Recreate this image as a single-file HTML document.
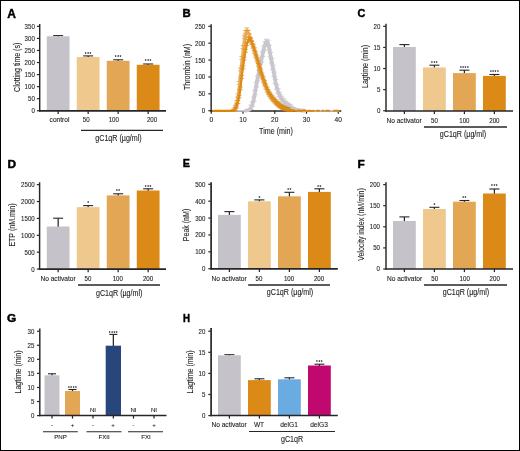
<!DOCTYPE html>
<html lang="en">
<head>
<meta charset="utf-8">
<title>Figure</title>
<style>
html,body{margin:0;padding:0;background:#fff;}
body{width:520px;height:451px;overflow:hidden;}
svg{display:block;font-family:"Liberation Sans",sans-serif;}
</style>
</head>
<body>
<svg width="520" height="451" viewBox="0 0 520 451">
<rect x="0" y="0" width="520" height="451" fill="#fff"/>
<line x1="58.15" y1="35.60" x2="58.15" y2="36.80" stroke="#262628" stroke-width="1.25" stroke-linecap="butt"/>
<line x1="53.15" y1="35.60" x2="63.15" y2="35.60" stroke="#262628" stroke-width="1.1" stroke-linecap="butt"/>
<rect x="46.75" y="36.30" width="22.80" height="74.60" fill="#c5c3c9"/>
<line x1="58.15" y1="110.90" x2="58.15" y2="114.00" stroke="#262628" stroke-width="1.25" stroke-linecap="butt"/>
<line x1="88.15" y1="55.90" x2="88.15" y2="57.50" stroke="#262628" stroke-width="1.25" stroke-linecap="butt"/>
<line x1="83.15" y1="55.90" x2="93.15" y2="55.90" stroke="#262628" stroke-width="1.1" stroke-linecap="butt"/>
<rect x="76.75" y="57.00" width="22.80" height="53.90" fill="#efc88e"/>
<text transform="translate(88.30,55.60)" font-size="4.6" text-anchor="middle" font-weight="bold" fill="#111" letter-spacing="0.55">***</text>
<line x1="88.15" y1="110.90" x2="88.15" y2="114.00" stroke="#262628" stroke-width="1.25" stroke-linecap="butt"/>
<line x1="118.15" y1="59.80" x2="118.15" y2="61.30" stroke="#262628" stroke-width="1.25" stroke-linecap="butt"/>
<line x1="113.15" y1="59.80" x2="123.15" y2="59.80" stroke="#262628" stroke-width="1.1" stroke-linecap="butt"/>
<rect x="106.75" y="60.80" width="22.80" height="50.10" fill="#e3a654"/>
<text transform="translate(118.30,59.40)" font-size="4.6" text-anchor="middle" font-weight="bold" fill="#111" letter-spacing="0.55">***</text>
<line x1="118.15" y1="110.90" x2="118.15" y2="114.00" stroke="#262628" stroke-width="1.25" stroke-linecap="butt"/>
<line x1="148.15" y1="64.00" x2="148.15" y2="65.30" stroke="#262628" stroke-width="1.25" stroke-linecap="butt"/>
<line x1="143.15" y1="64.00" x2="153.15" y2="64.00" stroke="#262628" stroke-width="1.1" stroke-linecap="butt"/>
<rect x="136.75" y="64.80" width="22.80" height="46.10" fill="#db8a17"/>
<text transform="translate(148.30,63.30)" font-size="4.6" text-anchor="middle" font-weight="bold" fill="#111" letter-spacing="0.55">***</text>
<line x1="148.15" y1="110.90" x2="148.15" y2="114.00" stroke="#262628" stroke-width="1.25" stroke-linecap="butt"/>
<line x1="39.10" y1="110.90" x2="166.00" y2="110.90" stroke="#262628" stroke-width="1.6" stroke-linecap="butt"/>
<line x1="39.70" y1="24.00" x2="39.70" y2="111.70" stroke="#262628" stroke-width="1.45" stroke-linecap="butt"/>
<line x1="36.90" y1="110.75" x2="39.40" y2="110.75" stroke="#262628" stroke-width="1.2" stroke-linecap="butt"/>
<text transform="translate(34.80,113.20) scale(0.9,1)" font-size="6.8" text-anchor="end" font-weight="normal" fill="#1c1c1c" stroke="#1c1c1c" stroke-width="0.1">0</text>
<line x1="36.90" y1="98.69" x2="39.40" y2="98.69" stroke="#262628" stroke-width="1.2" stroke-linecap="butt"/>
<text transform="translate(34.80,101.14) scale(0.9,1)" font-size="6.8" text-anchor="end" font-weight="normal" fill="#1c1c1c" stroke="#1c1c1c" stroke-width="0.1">50</text>
<line x1="36.90" y1="86.64" x2="39.40" y2="86.64" stroke="#262628" stroke-width="1.2" stroke-linecap="butt"/>
<text transform="translate(34.80,89.08) scale(0.9,1)" font-size="6.8" text-anchor="end" font-weight="normal" fill="#1c1c1c" stroke="#1c1c1c" stroke-width="0.1">100</text>
<line x1="36.90" y1="74.58" x2="39.40" y2="74.58" stroke="#262628" stroke-width="1.2" stroke-linecap="butt"/>
<text transform="translate(34.80,77.03) scale(0.9,1)" font-size="6.8" text-anchor="end" font-weight="normal" fill="#1c1c1c" stroke="#1c1c1c" stroke-width="0.1">150</text>
<line x1="36.90" y1="62.52" x2="39.40" y2="62.52" stroke="#262628" stroke-width="1.2" stroke-linecap="butt"/>
<text transform="translate(34.80,64.97) scale(0.9,1)" font-size="6.8" text-anchor="end" font-weight="normal" fill="#1c1c1c" stroke="#1c1c1c" stroke-width="0.1">200</text>
<line x1="36.90" y1="50.46" x2="39.40" y2="50.46" stroke="#262628" stroke-width="1.2" stroke-linecap="butt"/>
<text transform="translate(34.80,52.91) scale(0.9,1)" font-size="6.8" text-anchor="end" font-weight="normal" fill="#1c1c1c" stroke="#1c1c1c" stroke-width="0.1">250</text>
<line x1="36.90" y1="38.41" x2="39.40" y2="38.41" stroke="#262628" stroke-width="1.2" stroke-linecap="butt"/>
<text transform="translate(34.80,40.86) scale(0.9,1)" font-size="6.8" text-anchor="end" font-weight="normal" fill="#1c1c1c" stroke="#1c1c1c" stroke-width="0.1">300</text>
<line x1="36.90" y1="26.35" x2="39.40" y2="26.35" stroke="#262628" stroke-width="1.2" stroke-linecap="butt"/>
<text transform="translate(34.80,28.80) scale(0.9,1)" font-size="6.8" text-anchor="end" font-weight="normal" fill="#1c1c1c" stroke="#1c1c1c" stroke-width="0.1">350</text>
<text transform="translate(59.50,121.60)" font-size="6.6" text-anchor="middle" font-weight="normal" fill="#1c1c1c" stroke="#1c1c1c" stroke-width="0.1">control</text>
<text transform="translate(86.25,121.60) scale(0.93,1)" font-size="6.6" text-anchor="middle" font-weight="normal" fill="#1c1c1c" stroke="#1c1c1c" stroke-width="0.1">50</text>
<text transform="translate(113.75,121.60) scale(0.93,1)" font-size="6.6" text-anchor="middle" font-weight="normal" fill="#1c1c1c" stroke="#1c1c1c" stroke-width="0.1">100</text>
<text transform="translate(152.00,121.60) scale(0.93,1)" font-size="6.6" text-anchor="middle" font-weight="normal" fill="#1c1c1c" stroke="#1c1c1c" stroke-width="0.1">200</text>
<line x1="81.00" y1="130.30" x2="163.00" y2="130.30" stroke="#262628" stroke-width="1.15" stroke-linecap="butt"/>
<text transform="translate(118.50,141.20) scale(0.87,1)" font-size="8.2" text-anchor="middle" font-weight="normal" fill="#1c1c1c" stroke="#1c1c1c" stroke-width="0.1">gC1qR (µg/ml)</text>
<text transform="translate(20.00,67.30) rotate(-90) scale(0.86,1)" font-size="8.2" text-anchor="middle" font-weight="normal" fill="#1c1c1c" stroke="#1c1c1c" stroke-width="0.1">Clotting time (s)</text>
<text transform="translate(7.30,18.00)" font-size="12.0" text-anchor="start" font-weight="bold" fill="#000" stroke="#000" stroke-width="0.45" stroke-linejoin="round">A</text>
<line x1="404.40" y1="44.60" x2="404.40" y2="47.50" stroke="#262628" stroke-width="1.25" stroke-linecap="butt"/>
<line x1="399.40" y1="44.60" x2="409.40" y2="44.60" stroke="#262628" stroke-width="1.1" stroke-linecap="butt"/>
<rect x="393.00" y="47.00" width="22.80" height="64.00" fill="#c5c3c9"/>
<line x1="404.40" y1="111.00" x2="404.40" y2="114.10" stroke="#262628" stroke-width="1.25" stroke-linecap="butt"/>
<line x1="434.40" y1="65.20" x2="434.40" y2="67.90" stroke="#262628" stroke-width="1.25" stroke-linecap="butt"/>
<line x1="429.40" y1="65.20" x2="439.40" y2="65.20" stroke="#262628" stroke-width="1.1" stroke-linecap="butt"/>
<rect x="423.00" y="67.40" width="22.80" height="43.60" fill="#efc88e"/>
<text transform="translate(434.55,65.05)" font-size="4.6" text-anchor="middle" font-weight="bold" fill="#111" letter-spacing="0.55">***</text>
<line x1="434.40" y1="111.00" x2="434.40" y2="114.10" stroke="#262628" stroke-width="1.25" stroke-linecap="butt"/>
<line x1="464.40" y1="70.20" x2="464.40" y2="73.60" stroke="#262628" stroke-width="1.25" stroke-linecap="butt"/>
<line x1="459.40" y1="70.20" x2="469.40" y2="70.20" stroke="#262628" stroke-width="1.1" stroke-linecap="butt"/>
<rect x="453.00" y="73.10" width="22.80" height="37.90" fill="#e3a654"/>
<text transform="translate(464.55,70.05)" font-size="4.6" text-anchor="middle" font-weight="bold" fill="#111" letter-spacing="0.55">****</text>
<line x1="464.40" y1="111.00" x2="464.40" y2="114.10" stroke="#262628" stroke-width="1.25" stroke-linecap="butt"/>
<line x1="494.40" y1="74.50" x2="494.40" y2="76.40" stroke="#262628" stroke-width="1.25" stroke-linecap="butt"/>
<line x1="489.40" y1="74.50" x2="499.40" y2="74.50" stroke="#262628" stroke-width="1.1" stroke-linecap="butt"/>
<rect x="483.00" y="75.90" width="22.80" height="35.10" fill="#db8a17"/>
<text transform="translate(494.55,74.35)" font-size="4.6" text-anchor="middle" font-weight="bold" fill="#111" letter-spacing="0.55">****</text>
<line x1="494.40" y1="111.00" x2="494.40" y2="114.10" stroke="#262628" stroke-width="1.25" stroke-linecap="butt"/>
<line x1="385.40" y1="111.00" x2="513.00" y2="111.00" stroke="#262628" stroke-width="1.6" stroke-linecap="butt"/>
<line x1="386.00" y1="23.80" x2="386.00" y2="111.80" stroke="#262628" stroke-width="1.45" stroke-linecap="butt"/>
<line x1="383.20" y1="110.75" x2="385.70" y2="110.75" stroke="#262628" stroke-width="1.2" stroke-linecap="butt"/>
<text transform="translate(380.40,113.20) scale(0.9,1)" font-size="6.8" text-anchor="end" font-weight="normal" fill="#1c1c1c" stroke="#1c1c1c" stroke-width="0.1">0</text>
<line x1="383.20" y1="89.65" x2="385.70" y2="89.65" stroke="#262628" stroke-width="1.2" stroke-linecap="butt"/>
<text transform="translate(380.40,92.10) scale(0.9,1)" font-size="6.8" text-anchor="end" font-weight="normal" fill="#1c1c1c" stroke="#1c1c1c" stroke-width="0.1">5</text>
<line x1="383.20" y1="68.55" x2="385.70" y2="68.55" stroke="#262628" stroke-width="1.2" stroke-linecap="butt"/>
<text transform="translate(380.40,71.00) scale(0.9,1)" font-size="6.8" text-anchor="end" font-weight="normal" fill="#1c1c1c" stroke="#1c1c1c" stroke-width="0.1">10</text>
<line x1="383.20" y1="47.45" x2="385.70" y2="47.45" stroke="#262628" stroke-width="1.2" stroke-linecap="butt"/>
<text transform="translate(380.40,49.90) scale(0.9,1)" font-size="6.8" text-anchor="end" font-weight="normal" fill="#1c1c1c" stroke="#1c1c1c" stroke-width="0.1">15</text>
<line x1="383.20" y1="26.35" x2="385.70" y2="26.35" stroke="#262628" stroke-width="1.2" stroke-linecap="butt"/>
<text transform="translate(380.40,28.80) scale(0.9,1)" font-size="6.8" text-anchor="end" font-weight="normal" fill="#1c1c1c" stroke="#1c1c1c" stroke-width="0.1">20</text>
<text transform="translate(404.00,122.60)" font-size="6.6" text-anchor="middle" font-weight="normal" fill="#1c1c1c" stroke="#1c1c1c" stroke-width="0.1">No activator</text>
<text transform="translate(434.40,122.60) scale(0.93,1)" font-size="6.6" text-anchor="middle" font-weight="normal" fill="#1c1c1c" stroke="#1c1c1c" stroke-width="0.1">50</text>
<text transform="translate(464.40,122.60) scale(0.93,1)" font-size="6.6" text-anchor="middle" font-weight="normal" fill="#1c1c1c" stroke="#1c1c1c" stroke-width="0.1">100</text>
<text transform="translate(494.40,122.60) scale(0.93,1)" font-size="6.6" text-anchor="middle" font-weight="normal" fill="#1c1c1c" stroke="#1c1c1c" stroke-width="0.1">200</text>
<line x1="424.00" y1="127.00" x2="507.00" y2="127.00" stroke="#262628" stroke-width="1.35" stroke-linecap="butt"/>
<text transform="translate(463.00,137.40) scale(0.87,1)" font-size="8.2" text-anchor="middle" font-weight="normal" fill="#1c1c1c" stroke="#1c1c1c" stroke-width="0.1">gC1qR (µg/ml)</text>
<text transform="translate(368.00,66.50) rotate(-90) scale(0.86,1)" font-size="8.2" text-anchor="middle" font-weight="normal" fill="#1c1c1c" stroke="#1c1c1c" stroke-width="0.1">Lagtime (min)</text>
<text transform="translate(357.50,17.20)" font-size="10.8" text-anchor="start" font-weight="bold" fill="#000" stroke="#000" stroke-width="0.45" stroke-linejoin="round">C</text>
<line x1="58.15" y1="218.20" x2="58.15" y2="227.00" stroke="#262628" stroke-width="1.25" stroke-linecap="butt"/>
<line x1="53.15" y1="218.20" x2="63.15" y2="218.20" stroke="#262628" stroke-width="1.1" stroke-linecap="butt"/>
<rect x="46.75" y="226.50" width="22.80" height="42.60" fill="#c5c3c9"/>
<line x1="58.15" y1="269.10" x2="58.15" y2="272.20" stroke="#262628" stroke-width="1.25" stroke-linecap="butt"/>
<line x1="88.15" y1="205.60" x2="88.15" y2="207.60" stroke="#262628" stroke-width="1.25" stroke-linecap="butt"/>
<line x1="83.15" y1="205.60" x2="93.15" y2="205.60" stroke="#262628" stroke-width="1.1" stroke-linecap="butt"/>
<rect x="76.75" y="207.10" width="22.80" height="62.00" fill="#efc88e"/>
<text transform="translate(88.30,205.30)" font-size="4.6" text-anchor="middle" font-weight="bold" fill="#111" letter-spacing="0.55">*</text>
<line x1="88.15" y1="269.10" x2="88.15" y2="272.20" stroke="#262628" stroke-width="1.25" stroke-linecap="butt"/>
<line x1="118.15" y1="193.80" x2="118.15" y2="195.90" stroke="#262628" stroke-width="1.25" stroke-linecap="butt"/>
<line x1="113.15" y1="193.80" x2="123.15" y2="193.80" stroke="#262628" stroke-width="1.1" stroke-linecap="butt"/>
<rect x="106.75" y="195.40" width="22.80" height="73.70" fill="#e3a654"/>
<text transform="translate(118.30,193.40)" font-size="4.6" text-anchor="middle" font-weight="bold" fill="#111" letter-spacing="0.55">**</text>
<line x1="118.15" y1="269.10" x2="118.15" y2="272.20" stroke="#262628" stroke-width="1.25" stroke-linecap="butt"/>
<line x1="148.15" y1="188.80" x2="148.15" y2="191.00" stroke="#262628" stroke-width="1.25" stroke-linecap="butt"/>
<line x1="143.15" y1="188.80" x2="153.15" y2="188.80" stroke="#262628" stroke-width="1.1" stroke-linecap="butt"/>
<rect x="136.75" y="190.50" width="22.80" height="78.60" fill="#db8a17"/>
<text transform="translate(148.30,188.60)" font-size="4.6" text-anchor="middle" font-weight="bold" fill="#111" letter-spacing="0.55">***</text>
<line x1="148.15" y1="269.10" x2="148.15" y2="272.20" stroke="#262628" stroke-width="1.25" stroke-linecap="butt"/>
<line x1="39.00" y1="269.10" x2="166.00" y2="269.10" stroke="#262628" stroke-width="1.6" stroke-linecap="butt"/>
<line x1="39.60" y1="182.30" x2="39.60" y2="269.90" stroke="#262628" stroke-width="1.45" stroke-linecap="butt"/>
<line x1="36.80" y1="269.05" x2="39.30" y2="269.05" stroke="#262628" stroke-width="1.2" stroke-linecap="butt"/>
<text transform="translate(34.70,271.50) scale(0.9,1)" font-size="6.8" text-anchor="end" font-weight="normal" fill="#1c1c1c" stroke="#1c1c1c" stroke-width="0.1">0</text>
<line x1="36.80" y1="252.17" x2="39.30" y2="252.17" stroke="#262628" stroke-width="1.2" stroke-linecap="butt"/>
<text transform="translate(34.70,254.62) scale(0.9,1)" font-size="6.8" text-anchor="end" font-weight="normal" fill="#1c1c1c" stroke="#1c1c1c" stroke-width="0.1">500</text>
<line x1="36.80" y1="235.29" x2="39.30" y2="235.29" stroke="#262628" stroke-width="1.2" stroke-linecap="butt"/>
<text transform="translate(34.70,237.74) scale(0.9,1)" font-size="6.8" text-anchor="end" font-weight="normal" fill="#1c1c1c" stroke="#1c1c1c" stroke-width="0.1">1000</text>
<line x1="36.80" y1="218.41" x2="39.30" y2="218.41" stroke="#262628" stroke-width="1.2" stroke-linecap="butt"/>
<text transform="translate(34.70,220.86) scale(0.9,1)" font-size="6.8" text-anchor="end" font-weight="normal" fill="#1c1c1c" stroke="#1c1c1c" stroke-width="0.1">1500</text>
<line x1="36.80" y1="201.53" x2="39.30" y2="201.53" stroke="#262628" stroke-width="1.2" stroke-linecap="butt"/>
<text transform="translate(34.70,203.98) scale(0.9,1)" font-size="6.8" text-anchor="end" font-weight="normal" fill="#1c1c1c" stroke="#1c1c1c" stroke-width="0.1">2000</text>
<line x1="36.80" y1="184.65" x2="39.30" y2="184.65" stroke="#262628" stroke-width="1.2" stroke-linecap="butt"/>
<text transform="translate(34.70,187.10) scale(0.9,1)" font-size="6.8" text-anchor="end" font-weight="normal" fill="#1c1c1c" stroke="#1c1c1c" stroke-width="0.1">2500</text>
<text transform="translate(58.00,281.00)" font-size="6.6" text-anchor="middle" font-weight="normal" fill="#1c1c1c" stroke="#1c1c1c" stroke-width="0.1">No activator</text>
<text transform="translate(88.00,281.00) scale(0.93,1)" font-size="6.6" text-anchor="middle" font-weight="normal" fill="#1c1c1c" stroke="#1c1c1c" stroke-width="0.1">50</text>
<text transform="translate(117.75,281.00) scale(0.93,1)" font-size="6.6" text-anchor="middle" font-weight="normal" fill="#1c1c1c" stroke="#1c1c1c" stroke-width="0.1">100</text>
<text transform="translate(148.00,281.00) scale(0.93,1)" font-size="6.6" text-anchor="middle" font-weight="normal" fill="#1c1c1c" stroke="#1c1c1c" stroke-width="0.1">200</text>
<line x1="78.00" y1="285.00" x2="160.00" y2="285.00" stroke="#262628" stroke-width="1.35" stroke-linecap="butt"/>
<text transform="translate(119.20,295.50) scale(0.87,1)" font-size="8.2" text-anchor="middle" font-weight="normal" fill="#1c1c1c" stroke="#1c1c1c" stroke-width="0.1">gC1qR (µg/ml)</text>
<text transform="translate(14.90,225.00) rotate(-90) scale(0.86,1)" font-size="8.2" text-anchor="middle" font-weight="normal" fill="#1c1c1c" stroke="#1c1c1c" stroke-width="0.1">ETP (nM.min)</text>
<text transform="translate(7.40,167.50) scale(1.1,1)" font-size="10.8" text-anchor="start" font-weight="bold" fill="#000" stroke="#000" stroke-width="0.45" stroke-linejoin="round">D</text>
<line x1="229.40" y1="211.60" x2="229.40" y2="215.40" stroke="#262628" stroke-width="1.25" stroke-linecap="butt"/>
<line x1="224.40" y1="211.60" x2="234.40" y2="211.60" stroke="#262628" stroke-width="1.1" stroke-linecap="butt"/>
<rect x="218.00" y="214.90" width="22.80" height="54.00" fill="#c5c3c9"/>
<line x1="229.40" y1="268.90" x2="229.40" y2="272.00" stroke="#262628" stroke-width="1.25" stroke-linecap="butt"/>
<line x1="259.40" y1="199.90" x2="259.40" y2="201.80" stroke="#262628" stroke-width="1.25" stroke-linecap="butt"/>
<line x1="254.40" y1="199.90" x2="264.40" y2="199.90" stroke="#262628" stroke-width="1.1" stroke-linecap="butt"/>
<rect x="248.00" y="201.30" width="22.80" height="67.60" fill="#efc88e"/>
<text transform="translate(259.55,199.70)" font-size="4.6" text-anchor="middle" font-weight="bold" fill="#111" letter-spacing="0.55">*</text>
<line x1="259.40" y1="268.90" x2="259.40" y2="272.00" stroke="#262628" stroke-width="1.25" stroke-linecap="butt"/>
<line x1="289.40" y1="192.30" x2="289.40" y2="196.80" stroke="#262628" stroke-width="1.25" stroke-linecap="butt"/>
<line x1="284.40" y1="192.30" x2="294.40" y2="192.30" stroke="#262628" stroke-width="1.1" stroke-linecap="butt"/>
<rect x="278.00" y="196.30" width="22.80" height="72.60" fill="#e3a654"/>
<text transform="translate(289.55,192.10)" font-size="4.6" text-anchor="middle" font-weight="bold" fill="#111" letter-spacing="0.55">**</text>
<line x1="289.40" y1="268.90" x2="289.40" y2="272.00" stroke="#262628" stroke-width="1.25" stroke-linecap="butt"/>
<line x1="319.40" y1="188.80" x2="319.40" y2="192.40" stroke="#262628" stroke-width="1.25" stroke-linecap="butt"/>
<line x1="314.40" y1="188.80" x2="324.40" y2="188.80" stroke="#262628" stroke-width="1.1" stroke-linecap="butt"/>
<rect x="308.00" y="191.90" width="22.80" height="77.00" fill="#db8a17"/>
<text transform="translate(319.55,188.60)" font-size="4.6" text-anchor="middle" font-weight="bold" fill="#111" letter-spacing="0.55">**</text>
<line x1="319.40" y1="268.90" x2="319.40" y2="272.00" stroke="#262628" stroke-width="1.25" stroke-linecap="butt"/>
<line x1="210.50" y1="268.90" x2="337.80" y2="268.90" stroke="#262628" stroke-width="1.6" stroke-linecap="butt"/>
<line x1="211.10" y1="182.30" x2="211.10" y2="269.70" stroke="#262628" stroke-width="1.7" stroke-linecap="butt"/>
<line x1="208.30" y1="268.70" x2="210.80" y2="268.70" stroke="#262628" stroke-width="1.2" stroke-linecap="butt"/>
<text transform="translate(205.40,271.15) scale(0.9,1)" font-size="6.8" text-anchor="end" font-weight="normal" fill="#1c1c1c" stroke="#1c1c1c" stroke-width="0.1">0</text>
<line x1="208.30" y1="251.82" x2="210.80" y2="251.82" stroke="#262628" stroke-width="1.2" stroke-linecap="butt"/>
<text transform="translate(205.40,254.27) scale(0.9,1)" font-size="6.8" text-anchor="end" font-weight="normal" fill="#1c1c1c" stroke="#1c1c1c" stroke-width="0.1">100</text>
<line x1="208.30" y1="234.94" x2="210.80" y2="234.94" stroke="#262628" stroke-width="1.2" stroke-linecap="butt"/>
<text transform="translate(205.40,237.39) scale(0.9,1)" font-size="6.8" text-anchor="end" font-weight="normal" fill="#1c1c1c" stroke="#1c1c1c" stroke-width="0.1">200</text>
<line x1="208.30" y1="218.06" x2="210.80" y2="218.06" stroke="#262628" stroke-width="1.2" stroke-linecap="butt"/>
<text transform="translate(205.40,220.51) scale(0.9,1)" font-size="6.8" text-anchor="end" font-weight="normal" fill="#1c1c1c" stroke="#1c1c1c" stroke-width="0.1">300</text>
<line x1="208.30" y1="201.18" x2="210.80" y2="201.18" stroke="#262628" stroke-width="1.2" stroke-linecap="butt"/>
<text transform="translate(205.40,203.63) scale(0.9,1)" font-size="6.8" text-anchor="end" font-weight="normal" fill="#1c1c1c" stroke="#1c1c1c" stroke-width="0.1">400</text>
<line x1="208.30" y1="184.30" x2="210.80" y2="184.30" stroke="#262628" stroke-width="1.2" stroke-linecap="butt"/>
<text transform="translate(205.40,186.75) scale(0.9,1)" font-size="6.8" text-anchor="end" font-weight="normal" fill="#1c1c1c" stroke="#1c1c1c" stroke-width="0.1">500</text>
<text transform="translate(229.00,280.80)" font-size="6.6" text-anchor="middle" font-weight="normal" fill="#1c1c1c" stroke="#1c1c1c" stroke-width="0.1">No activator</text>
<text transform="translate(259.00,280.80) scale(0.93,1)" font-size="6.6" text-anchor="middle" font-weight="normal" fill="#1c1c1c" stroke="#1c1c1c" stroke-width="0.1">50</text>
<text transform="translate(289.00,280.80) scale(0.93,1)" font-size="6.6" text-anchor="middle" font-weight="normal" fill="#1c1c1c" stroke="#1c1c1c" stroke-width="0.1">100</text>
<text transform="translate(319.00,280.80) scale(0.93,1)" font-size="6.6" text-anchor="middle" font-weight="normal" fill="#1c1c1c" stroke="#1c1c1c" stroke-width="0.1">200</text>
<line x1="248.20" y1="285.00" x2="330.00" y2="285.00" stroke="#262628" stroke-width="1.35" stroke-linecap="butt"/>
<text transform="translate(290.00,295.40) scale(0.87,1)" font-size="8.2" text-anchor="middle" font-weight="normal" fill="#1c1c1c" stroke="#1c1c1c" stroke-width="0.1">gC1qR (µg/ml)</text>
<text transform="translate(189.00,225.00) rotate(-90) scale(0.86,1)" font-size="8.2" text-anchor="middle" font-weight="normal" fill="#1c1c1c" stroke="#1c1c1c" stroke-width="0.1">Peak (nM)</text>
<text transform="translate(182.80,166.90)" font-size="10.8" text-anchor="start" font-weight="bold" fill="#000" stroke="#000" stroke-width="0.45" stroke-linejoin="round">E</text>
<line x1="404.40" y1="216.90" x2="404.40" y2="221.50" stroke="#262628" stroke-width="1.25" stroke-linecap="butt"/>
<line x1="399.40" y1="216.90" x2="409.40" y2="216.90" stroke="#262628" stroke-width="1.1" stroke-linecap="butt"/>
<rect x="393.00" y="221.00" width="22.80" height="48.00" fill="#c5c3c9"/>
<line x1="404.40" y1="269.00" x2="404.40" y2="272.10" stroke="#262628" stroke-width="1.25" stroke-linecap="butt"/>
<line x1="434.40" y1="207.30" x2="434.40" y2="209.50" stroke="#262628" stroke-width="1.25" stroke-linecap="butt"/>
<line x1="429.40" y1="207.30" x2="439.40" y2="207.30" stroke="#262628" stroke-width="1.1" stroke-linecap="butt"/>
<rect x="423.00" y="209.00" width="22.80" height="60.00" fill="#efc88e"/>
<text transform="translate(434.55,206.50)" font-size="4.6" text-anchor="middle" font-weight="bold" fill="#111" letter-spacing="0.55">*</text>
<line x1="434.40" y1="269.00" x2="434.40" y2="272.10" stroke="#262628" stroke-width="1.25" stroke-linecap="butt"/>
<line x1="464.40" y1="200.50" x2="464.40" y2="202.20" stroke="#262628" stroke-width="1.25" stroke-linecap="butt"/>
<line x1="459.40" y1="200.50" x2="469.40" y2="200.50" stroke="#262628" stroke-width="1.1" stroke-linecap="butt"/>
<rect x="453.00" y="201.70" width="22.80" height="67.30" fill="#e3a654"/>
<text transform="translate(464.55,199.70)" font-size="4.6" text-anchor="middle" font-weight="bold" fill="#111" letter-spacing="0.55">**</text>
<line x1="464.40" y1="269.00" x2="464.40" y2="272.10" stroke="#262628" stroke-width="1.25" stroke-linecap="butt"/>
<line x1="494.40" y1="189.00" x2="494.40" y2="194.00" stroke="#262628" stroke-width="1.25" stroke-linecap="butt"/>
<line x1="489.40" y1="189.00" x2="499.40" y2="189.00" stroke="#262628" stroke-width="1.1" stroke-linecap="butt"/>
<rect x="483.00" y="193.50" width="22.80" height="75.50" fill="#db8a17"/>
<text transform="translate(494.55,188.20)" font-size="4.6" text-anchor="middle" font-weight="bold" fill="#111" letter-spacing="0.55">***</text>
<line x1="494.40" y1="269.00" x2="494.40" y2="272.10" stroke="#262628" stroke-width="1.25" stroke-linecap="butt"/>
<line x1="385.40" y1="269.00" x2="513.00" y2="269.00" stroke="#262628" stroke-width="1.6" stroke-linecap="butt"/>
<line x1="386.00" y1="182.30" x2="386.00" y2="269.80" stroke="#262628" stroke-width="1.45" stroke-linecap="butt"/>
<line x1="383.20" y1="269.00" x2="385.70" y2="269.00" stroke="#262628" stroke-width="1.2" stroke-linecap="butt"/>
<text transform="translate(380.00,271.45) scale(0.9,1)" font-size="6.8" text-anchor="end" font-weight="normal" fill="#1c1c1c" stroke="#1c1c1c" stroke-width="0.1">0</text>
<line x1="383.20" y1="247.90" x2="385.70" y2="247.90" stroke="#262628" stroke-width="1.2" stroke-linecap="butt"/>
<text transform="translate(380.00,250.35) scale(0.9,1)" font-size="6.8" text-anchor="end" font-weight="normal" fill="#1c1c1c" stroke="#1c1c1c" stroke-width="0.1">50</text>
<line x1="383.20" y1="226.80" x2="385.70" y2="226.80" stroke="#262628" stroke-width="1.2" stroke-linecap="butt"/>
<text transform="translate(380.00,229.25) scale(0.9,1)" font-size="6.8" text-anchor="end" font-weight="normal" fill="#1c1c1c" stroke="#1c1c1c" stroke-width="0.1">100</text>
<line x1="383.20" y1="205.70" x2="385.70" y2="205.70" stroke="#262628" stroke-width="1.2" stroke-linecap="butt"/>
<text transform="translate(380.00,208.15) scale(0.9,1)" font-size="6.8" text-anchor="end" font-weight="normal" fill="#1c1c1c" stroke="#1c1c1c" stroke-width="0.1">150</text>
<line x1="383.20" y1="184.60" x2="385.70" y2="184.60" stroke="#262628" stroke-width="1.2" stroke-linecap="butt"/>
<text transform="translate(380.00,187.05) scale(0.9,1)" font-size="6.8" text-anchor="end" font-weight="normal" fill="#1c1c1c" stroke="#1c1c1c" stroke-width="0.1">200</text>
<text transform="translate(404.50,280.80)" font-size="6.6" text-anchor="middle" font-weight="normal" fill="#1c1c1c" stroke="#1c1c1c" stroke-width="0.1">No activator</text>
<text transform="translate(434.70,280.80) scale(0.93,1)" font-size="6.6" text-anchor="middle" font-weight="normal" fill="#1c1c1c" stroke="#1c1c1c" stroke-width="0.1">50</text>
<text transform="translate(464.70,280.80) scale(0.93,1)" font-size="6.6" text-anchor="middle" font-weight="normal" fill="#1c1c1c" stroke="#1c1c1c" stroke-width="0.1">100</text>
<text transform="translate(494.70,280.80) scale(0.93,1)" font-size="6.6" text-anchor="middle" font-weight="normal" fill="#1c1c1c" stroke="#1c1c1c" stroke-width="0.1">200</text>
<line x1="424.00" y1="285.00" x2="507.00" y2="285.00" stroke="#262628" stroke-width="1.35" stroke-linecap="butt"/>
<text transform="translate(465.90,295.30) scale(0.87,1)" font-size="8.2" text-anchor="middle" font-weight="normal" fill="#1c1c1c" stroke="#1c1c1c" stroke-width="0.1">gC1qR (µg/ml)</text>
<text transform="translate(363.50,224.50) rotate(-90) scale(0.86,1)" font-size="8.2" text-anchor="middle" font-weight="normal" fill="#1c1c1c" stroke="#1c1c1c" stroke-width="0.1">Velocity index (nM/min)</text>
<text transform="translate(357.50,167.50) scale(1.1,1)" font-size="10.8" text-anchor="start" font-weight="bold" fill="#000" stroke="#000" stroke-width="0.45" stroke-linejoin="round">F</text>
<line x1="52.00" y1="373.80" x2="52.00" y2="375.80" stroke="#262628" stroke-width="1.25" stroke-linecap="butt"/>
<line x1="48.00" y1="373.80" x2="56.00" y2="373.80" stroke="#262628" stroke-width="1.1" stroke-linecap="butt"/>
<rect x="44.50" y="375.30" width="15.00" height="40.20" fill="#c5c3c9"/>
<line x1="52.00" y1="415.50" x2="52.00" y2="418.60" stroke="#262628" stroke-width="1.25" stroke-linecap="butt"/>
<line x1="72.50" y1="389.50" x2="72.50" y2="391.50" stroke="#262628" stroke-width="1.25" stroke-linecap="butt"/>
<line x1="68.50" y1="389.50" x2="76.50" y2="389.50" stroke="#262628" stroke-width="1.1" stroke-linecap="butt"/>
<rect x="65.00" y="391.00" width="15.00" height="24.50" fill="#e3a654"/>
<text transform="translate(72.65,389.60)" font-size="4.6" text-anchor="middle" font-weight="bold" fill="#111" letter-spacing="0.55">****</text>
<line x1="72.50" y1="415.50" x2="72.50" y2="418.60" stroke="#262628" stroke-width="1.25" stroke-linecap="butt"/>
<line x1="93.00" y1="415.50" x2="93.00" y2="418.60" stroke="#262628" stroke-width="1.25" stroke-linecap="butt"/>
<line x1="113.35" y1="334.40" x2="113.35" y2="346.20" stroke="#262628" stroke-width="1.25" stroke-linecap="butt"/>
<line x1="109.35" y1="334.40" x2="117.35" y2="334.40" stroke="#262628" stroke-width="1.1" stroke-linecap="butt"/>
<rect x="105.70" y="345.70" width="15.30" height="69.80" fill="#29467c"/>
<text transform="translate(113.50,334.50)" font-size="4.6" text-anchor="middle" font-weight="bold" fill="#111" letter-spacing="0.55">****</text>
<line x1="113.35" y1="415.50" x2="113.35" y2="418.60" stroke="#262628" stroke-width="1.25" stroke-linecap="butt"/>
<line x1="133.50" y1="415.50" x2="133.50" y2="418.60" stroke="#262628" stroke-width="1.25" stroke-linecap="butt"/>
<line x1="154.00" y1="415.50" x2="154.00" y2="418.60" stroke="#262628" stroke-width="1.25" stroke-linecap="butt"/>
<line x1="39.20" y1="415.50" x2="166.50" y2="415.50" stroke="#262628" stroke-width="1.6" stroke-linecap="butt"/>
<line x1="39.80" y1="328.50" x2="39.80" y2="416.30" stroke="#262628" stroke-width="1.45" stroke-linecap="butt"/>
<line x1="37.00" y1="415.60" x2="39.50" y2="415.60" stroke="#262628" stroke-width="1.2" stroke-linecap="butt"/>
<text transform="translate(34.30,418.05) scale(0.9,1)" font-size="6.8" text-anchor="end" font-weight="normal" fill="#1c1c1c" stroke="#1c1c1c" stroke-width="0.1">0</text>
<line x1="37.00" y1="401.53" x2="39.50" y2="401.53" stroke="#262628" stroke-width="1.2" stroke-linecap="butt"/>
<text transform="translate(34.30,403.98) scale(0.9,1)" font-size="6.8" text-anchor="end" font-weight="normal" fill="#1c1c1c" stroke="#1c1c1c" stroke-width="0.1">5</text>
<line x1="37.00" y1="387.47" x2="39.50" y2="387.47" stroke="#262628" stroke-width="1.2" stroke-linecap="butt"/>
<text transform="translate(34.30,389.91) scale(0.9,1)" font-size="6.8" text-anchor="end" font-weight="normal" fill="#1c1c1c" stroke="#1c1c1c" stroke-width="0.1">10</text>
<line x1="37.00" y1="373.40" x2="39.50" y2="373.40" stroke="#262628" stroke-width="1.2" stroke-linecap="butt"/>
<text transform="translate(34.30,375.85) scale(0.9,1)" font-size="6.8" text-anchor="end" font-weight="normal" fill="#1c1c1c" stroke="#1c1c1c" stroke-width="0.1">15</text>
<line x1="37.00" y1="359.33" x2="39.50" y2="359.33" stroke="#262628" stroke-width="1.2" stroke-linecap="butt"/>
<text transform="translate(34.30,361.78) scale(0.9,1)" font-size="6.8" text-anchor="end" font-weight="normal" fill="#1c1c1c" stroke="#1c1c1c" stroke-width="0.1">20</text>
<line x1="37.00" y1="345.27" x2="39.50" y2="345.27" stroke="#262628" stroke-width="1.2" stroke-linecap="butt"/>
<text transform="translate(34.30,347.71) scale(0.9,1)" font-size="6.8" text-anchor="end" font-weight="normal" fill="#1c1c1c" stroke="#1c1c1c" stroke-width="0.1">25</text>
<line x1="37.00" y1="331.20" x2="39.50" y2="331.20" stroke="#262628" stroke-width="1.2" stroke-linecap="butt"/>
<text transform="translate(34.30,333.65) scale(0.9,1)" font-size="6.8" text-anchor="end" font-weight="normal" fill="#1c1c1c" stroke="#1c1c1c" stroke-width="0.1">30</text>
<text transform="translate(52.00,426.80)" font-size="6.1" text-anchor="middle" font-weight="normal" fill="#1c1c1c" stroke="#1c1c1c" stroke-width="0.1">-</text>
<text transform="translate(72.50,426.80)" font-size="6.1" text-anchor="middle" font-weight="normal" fill="#1c1c1c" stroke="#1c1c1c" stroke-width="0.1">+</text>
<text transform="translate(93.00,426.80)" font-size="6.1" text-anchor="middle" font-weight="normal" fill="#1c1c1c" stroke="#1c1c1c" stroke-width="0.1">-</text>
<text transform="translate(113.00,426.80)" font-size="6.1" text-anchor="middle" font-weight="normal" fill="#1c1c1c" stroke="#1c1c1c" stroke-width="0.1">+</text>
<text transform="translate(133.50,426.80)" font-size="6.1" text-anchor="middle" font-weight="normal" fill="#1c1c1c" stroke="#1c1c1c" stroke-width="0.1">-</text>
<text transform="translate(154.00,426.80)" font-size="6.1" text-anchor="middle" font-weight="normal" fill="#1c1c1c" stroke="#1c1c1c" stroke-width="0.1">+</text>
<text transform="translate(93.00,411.50)" font-size="6.1" text-anchor="middle" font-weight="normal" fill="#1c1c1c" stroke="#1c1c1c" stroke-width="0.1">NI</text>
<text transform="translate(133.50,411.50)" font-size="6.1" text-anchor="middle" font-weight="normal" fill="#1c1c1c" stroke="#1c1c1c" stroke-width="0.1">NI</text>
<text transform="translate(154.00,411.50)" font-size="6.1" text-anchor="middle" font-weight="normal" fill="#1c1c1c" stroke="#1c1c1c" stroke-width="0.1">NI</text>
<text transform="translate(60.50,439.00)" font-size="6.1" text-anchor="middle" font-weight="normal" fill="#1c1c1c" stroke="#1c1c1c" stroke-width="0.1">PNP</text>
<text transform="translate(104.00,439.00)" font-size="6.1" text-anchor="middle" font-weight="normal" fill="#1c1c1c" stroke="#1c1c1c" stroke-width="0.1">FXII</text>
<text transform="translate(146.00,439.00)" font-size="6.1" text-anchor="middle" font-weight="normal" fill="#1c1c1c" stroke="#1c1c1c" stroke-width="0.1">FXI</text>
<line x1="43.00" y1="431.70" x2="77.80" y2="431.70" stroke="#262628" stroke-width="1.1" stroke-linecap="butt"/>
<line x1="86.50" y1="431.70" x2="121.50" y2="431.70" stroke="#262628" stroke-width="1.1" stroke-linecap="butt"/>
<line x1="128.00" y1="431.70" x2="163.00" y2="431.70" stroke="#262628" stroke-width="1.1" stroke-linecap="butt"/>
<text transform="translate(21.20,372.00) rotate(-90) scale(0.86,1)" font-size="8.2" text-anchor="middle" font-weight="normal" fill="#1c1c1c" stroke="#1c1c1c" stroke-width="0.1">Lagtime (min)</text>
<text transform="translate(7.00,321.50) scale(1.1,1)" font-size="10.8" text-anchor="start" font-weight="bold" fill="#000" stroke="#000" stroke-width="0.45" stroke-linejoin="round">G</text>
<line x1="229.40" y1="354.70" x2="229.40" y2="355.80" stroke="#262628" stroke-width="1.25" stroke-linecap="butt"/>
<line x1="224.40" y1="354.70" x2="234.40" y2="354.70" stroke="#262628" stroke-width="1.1" stroke-linecap="butt"/>
<rect x="218.00" y="355.30" width="22.80" height="60.20" fill="#c5c3c9"/>
<line x1="229.40" y1="415.50" x2="229.40" y2="418.60" stroke="#262628" stroke-width="1.25" stroke-linecap="butt"/>
<line x1="259.40" y1="378.80" x2="259.40" y2="380.60" stroke="#262628" stroke-width="1.25" stroke-linecap="butt"/>
<line x1="254.40" y1="378.80" x2="264.40" y2="378.80" stroke="#262628" stroke-width="1.1" stroke-linecap="butt"/>
<rect x="248.00" y="380.10" width="22.80" height="35.40" fill="#db8a17"/>
<line x1="259.40" y1="415.50" x2="259.40" y2="418.60" stroke="#262628" stroke-width="1.25" stroke-linecap="butt"/>
<line x1="289.40" y1="377.80" x2="289.40" y2="379.80" stroke="#262628" stroke-width="1.25" stroke-linecap="butt"/>
<line x1="284.40" y1="377.80" x2="294.40" y2="377.80" stroke="#262628" stroke-width="1.1" stroke-linecap="butt"/>
<rect x="278.00" y="379.30" width="22.80" height="36.20" fill="#6aabe2"/>
<line x1="289.40" y1="415.50" x2="289.40" y2="418.60" stroke="#262628" stroke-width="1.25" stroke-linecap="butt"/>
<line x1="319.40" y1="364.20" x2="319.40" y2="366.00" stroke="#262628" stroke-width="1.25" stroke-linecap="butt"/>
<line x1="314.40" y1="364.20" x2="324.40" y2="364.20" stroke="#262628" stroke-width="1.1" stroke-linecap="butt"/>
<rect x="308.00" y="365.50" width="22.80" height="50.00" fill="#c1086f"/>
<text transform="translate(319.55,363.80)" font-size="4.6" text-anchor="middle" font-weight="bold" fill="#111" letter-spacing="0.55">***</text>
<line x1="319.40" y1="415.50" x2="319.40" y2="418.60" stroke="#262628" stroke-width="1.25" stroke-linecap="butt"/>
<line x1="210.50" y1="415.50" x2="337.80" y2="415.50" stroke="#262628" stroke-width="1.6" stroke-linecap="butt"/>
<line x1="211.10" y1="328.00" x2="211.10" y2="416.30" stroke="#262628" stroke-width="1.7" stroke-linecap="butt"/>
<line x1="208.30" y1="415.60" x2="210.80" y2="415.60" stroke="#262628" stroke-width="1.2" stroke-linecap="butt"/>
<text transform="translate(205.40,418.05) scale(0.9,1)" font-size="6.8" text-anchor="end" font-weight="normal" fill="#1c1c1c" stroke="#1c1c1c" stroke-width="0.1">0</text>
<line x1="208.30" y1="394.50" x2="210.80" y2="394.50" stroke="#262628" stroke-width="1.2" stroke-linecap="butt"/>
<text transform="translate(205.40,396.95) scale(0.9,1)" font-size="6.8" text-anchor="end" font-weight="normal" fill="#1c1c1c" stroke="#1c1c1c" stroke-width="0.1">5</text>
<line x1="208.30" y1="373.40" x2="210.80" y2="373.40" stroke="#262628" stroke-width="1.2" stroke-linecap="butt"/>
<text transform="translate(205.40,375.85) scale(0.9,1)" font-size="6.8" text-anchor="end" font-weight="normal" fill="#1c1c1c" stroke="#1c1c1c" stroke-width="0.1">10</text>
<line x1="208.30" y1="352.30" x2="210.80" y2="352.30" stroke="#262628" stroke-width="1.2" stroke-linecap="butt"/>
<text transform="translate(205.40,354.75) scale(0.9,1)" font-size="6.8" text-anchor="end" font-weight="normal" fill="#1c1c1c" stroke="#1c1c1c" stroke-width="0.1">15</text>
<line x1="208.30" y1="331.20" x2="210.80" y2="331.20" stroke="#262628" stroke-width="1.2" stroke-linecap="butt"/>
<text transform="translate(205.40,333.65) scale(0.9,1)" font-size="6.8" text-anchor="end" font-weight="normal" fill="#1c1c1c" stroke="#1c1c1c" stroke-width="0.1">20</text>
<text transform="translate(229.00,427.30)" font-size="6.6" text-anchor="middle" font-weight="normal" fill="#1c1c1c" stroke="#1c1c1c" stroke-width="0.1">No activator</text>
<text transform="translate(259.00,427.30)" font-size="6.6" text-anchor="middle" font-weight="normal" fill="#1c1c1c" stroke="#1c1c1c" stroke-width="0.1">WT</text>
<text transform="translate(289.00,427.30)" font-size="6.6" text-anchor="middle" font-weight="normal" fill="#1c1c1c" stroke="#1c1c1c" stroke-width="0.1">delG1</text>
<text transform="translate(319.00,427.30)" font-size="6.6" text-anchor="middle" font-weight="normal" fill="#1c1c1c" stroke="#1c1c1c" stroke-width="0.1">delG3</text>
<line x1="249.00" y1="431.55" x2="335.00" y2="431.55" stroke="#262628" stroke-width="1.1" stroke-linecap="butt"/>
<text transform="translate(292.00,441.80) scale(0.87,1)" font-size="8.2" text-anchor="middle" font-weight="normal" fill="#1c1c1c" stroke="#1c1c1c" stroke-width="0.1">gC1qR</text>
<text transform="translate(193.20,372.00) rotate(-90) scale(0.86,1)" font-size="8.2" text-anchor="middle" font-weight="normal" fill="#1c1c1c" stroke="#1c1c1c" stroke-width="0.1">Lagtime (min)</text>
<text transform="translate(183.00,322.00) scale(0.9,1)" font-size="10.8" text-anchor="start" font-weight="bold" fill="#000" stroke="#000" stroke-width="0.45" stroke-linejoin="round">H</text>
<line x1="210.55" y1="110.90" x2="341.25" y2="110.90" stroke="#262628" stroke-width="1.5" stroke-linecap="butt"/>
<line x1="211.25" y1="110.70" x2="211.25" y2="113.70" stroke="#262628" stroke-width="1.2" stroke-linecap="butt"/>
<text transform="translate(211.25,122.30) scale(0.97,1)" font-size="6.8" text-anchor="middle" font-weight="normal" fill="#1c1c1c" stroke="#1c1c1c" stroke-width="0.1">0</text>
<line x1="243.00" y1="110.70" x2="243.00" y2="113.70" stroke="#262628" stroke-width="1.2" stroke-linecap="butt"/>
<text transform="translate(243.00,122.30) scale(0.97,1)" font-size="6.8" text-anchor="middle" font-weight="normal" fill="#1c1c1c" stroke="#1c1c1c" stroke-width="0.1">10</text>
<line x1="274.75" y1="110.70" x2="274.75" y2="113.70" stroke="#262628" stroke-width="1.2" stroke-linecap="butt"/>
<text transform="translate(274.75,122.30) scale(0.97,1)" font-size="6.8" text-anchor="middle" font-weight="normal" fill="#1c1c1c" stroke="#1c1c1c" stroke-width="0.1">20</text>
<line x1="306.50" y1="110.70" x2="306.50" y2="113.70" stroke="#262628" stroke-width="1.2" stroke-linecap="butt"/>
<text transform="translate(306.50,122.30) scale(0.97,1)" font-size="6.8" text-anchor="middle" font-weight="normal" fill="#1c1c1c" stroke="#1c1c1c" stroke-width="0.1">30</text>
<line x1="338.25" y1="110.70" x2="338.25" y2="113.70" stroke="#262628" stroke-width="1.2" stroke-linecap="butt"/>
<text transform="translate(338.25,122.30) scale(0.97,1)" font-size="6.8" text-anchor="middle" font-weight="normal" fill="#1c1c1c" stroke="#1c1c1c" stroke-width="0.1">40</text>
<line x1="212.84" y1="110.85" x2="248.08" y2="110.85" stroke="#cbc9cf" stroke-width="1.9" stroke-linecap="butt"/>
<line x1="301.74" y1="110.85" x2="339.25" y2="110.85" stroke="#cbc9cf" stroke-width="1.7" stroke-linecap="butt"/>
<path d="M251.25 105.05V109.45M248.56 105.05h5.40M248.56 109.45h5.40M252.53 101.87V106.27M249.83 101.87h5.40M249.83 106.27h5.40M253.80 97.05V101.45M251.10 97.05h5.40M251.10 101.45h5.40M255.06 90.31V94.71M252.37 90.31h5.40M252.37 94.71h5.40M256.34 82.50V86.90M253.64 82.50h5.40M253.64 86.90h5.40M257.61 76.25V80.65M254.91 76.25h5.40M254.91 80.65h5.40M258.88 70.25V74.65M256.18 70.25h5.40M256.18 74.65h5.40M260.14 63.87V68.27M257.44 63.87h5.40M257.44 68.27h5.40M261.42 57.74V62.14M258.72 57.74h5.40M258.72 62.14h5.40M262.69 52.01V56.41M259.99 52.01h5.40M259.99 56.41h5.40M263.96 46.07V50.47M261.26 46.07h5.40M261.26 50.47h5.40M265.23 41.71V46.11M262.53 41.71h5.40M262.53 46.11h5.40M266.50 39.25V43.65M263.80 39.25h5.40M263.80 43.65h5.40M267.76 40.30V44.70M265.06 40.30h5.40M265.06 44.70h5.40M269.04 45.37V49.77M266.34 45.37h5.40M266.34 49.77h5.40M270.31 52.46V56.86M267.61 52.46h5.40M267.61 56.86h5.40M271.58 58.65V63.05M268.88 58.65h5.40M268.88 63.05h5.40M272.85 65.21V69.61M270.15 65.21h5.40M270.15 69.61h5.40M274.12 72.12V76.52M271.42 72.12h5.40M271.42 76.52h5.40M275.39 79.31V83.71M272.69 79.31h5.40M272.69 83.71h5.40M276.66 84.69V89.09M273.96 84.69h5.40M273.96 89.09h5.40M277.93 88.92V93.32M275.23 88.92h5.40M275.23 93.32h5.40M279.20 92.28V96.68M276.50 92.28h5.40M276.50 96.68h5.40M280.47 94.83V99.23M277.77 94.83h5.40M277.77 99.23h5.40M281.74 96.91V101.31M279.04 96.91h5.40M279.04 101.31h5.40M283.00 98.66V103.06M280.31 98.66h5.40M280.31 103.06h5.40M284.28 100.15V104.55M281.58 100.15h5.40M281.58 104.55h5.40M285.55 101.48V105.88M282.85 101.48h5.40M282.85 105.88h5.40M286.82 102.61V107.01M284.12 102.61h5.40M284.12 107.01h5.40M288.09 103.54V107.94M285.39 103.54h5.40M285.39 107.94h5.40M289.36 104.36V108.76M286.66 104.36h5.40M286.66 108.76h5.40M290.63 105.06V109.46M287.93 105.06h5.40M287.93 109.46h5.40" fill="none" stroke="#c3c1c8" stroke-width="0.8"/>
<polyline points="246.18,110.67 247.44,110.42 248.72,109.97 249.99,109.18 251.25,107.25 252.53,104.07 253.80,99.25 255.06,92.51 256.34,84.70 257.61,78.45 258.88,72.45 260.14,66.07 261.42,59.94 262.69,54.21 263.96,48.27 265.23,43.91 266.50,41.45 267.76,42.50 269.04,47.57 270.31,54.66 271.58,60.85 272.85,67.41 274.12,74.32 275.39,81.51 276.66,86.89 277.93,91.12 279.20,94.48 280.47,97.03 281.74,99.11 283.00,100.86 284.28,102.35 285.55,103.68 286.82,104.81 288.09,105.74 289.36,106.56 290.63,107.26 291.90,107.86 293.17,108.39 294.44,108.88 295.71,109.32 296.98,109.69 298.25,109.97 299.52,110.18 300.79,110.36 302.06,110.53 303.33,110.64 304.60,110.70" fill="none" stroke="#c9c7cd" stroke-width="3.8" stroke-linejoin="round" stroke-linecap="round"/>
<path d="M234.11 107.95V110.75M231.71 107.95h4.80M231.71 110.75h4.80M235.38 105.17V107.97M232.98 105.17h4.80M232.98 107.97h4.80M236.65 100.64V103.44M234.25 100.64h4.80M234.25 103.44h4.80M237.92 93.93V96.73M235.52 93.93h4.80M235.52 96.73h4.80M239.19 81.55V84.35M236.79 81.55h4.80M236.79 84.35h4.80M240.46 68.02V70.82M238.06 68.02h4.80M238.06 70.82h4.80M241.73 56.63V59.43M239.33 56.63h4.80M239.33 59.43h4.80M243.00 45.57V48.37M240.60 45.57h4.80M240.60 48.37h4.80M244.27 35.31V38.11M241.87 35.31h4.80M241.87 38.11h4.80M245.54 30.43V33.23M243.14 30.43h4.80M243.14 33.23h4.80M246.81 27.94V30.74M244.41 27.94h4.80M244.41 30.74h4.80M248.08 30.45V33.25M245.68 30.45h4.80M245.68 33.25h4.80M249.35 34.69V37.49M246.95 34.69h4.80M246.95 37.49h4.80M250.62 38.22V41.02M248.22 38.22h4.80M248.22 41.02h4.80M251.89 41.78V44.58M249.49 41.78h4.80M249.49 44.58h4.80M253.16 45.90V48.70M250.76 45.90h4.80M250.76 48.70h4.80M254.43 50.31V53.11M252.03 50.31h4.80M252.03 53.11h4.80M255.70 54.67V57.47M253.30 54.67h4.80M253.30 57.47h4.80M256.97 59.08V61.88M254.57 59.08h4.80M254.57 61.88h4.80M258.24 63.53V66.33M255.84 63.53h4.80M255.84 66.33h4.80M259.51 67.85V70.65M257.11 67.85h4.80M257.11 70.65h4.80M260.78 71.89V74.69M258.38 71.89h4.80M258.38 74.69h4.80M262.05 75.65V78.45M259.65 75.65h4.80M259.65 78.45h4.80M263.32 79.36V82.16M260.92 79.36h4.80M260.92 82.16h4.80M264.59 82.94V85.74M262.19 82.94h4.80M262.19 85.74h4.80M265.86 86.27V89.07M263.46 86.27h4.80M263.46 89.07h4.80M267.13 89.24V92.04M264.73 89.24h4.80M264.73 92.04h4.80M268.40 91.74V94.54M266.00 91.74h4.80M266.00 94.54h4.80M269.67 93.84V96.64M267.27 93.84h4.80M267.27 96.64h4.80M270.94 95.69V98.49M268.54 95.69h4.80M268.54 98.49h4.80M272.21 97.33V100.13M269.81 97.33h4.80M269.81 100.13h4.80M273.48 98.81V101.61M271.08 98.81h4.80M271.08 101.61h4.80M274.75 100.19V102.99M272.35 100.19h4.80M272.35 102.99h4.80M276.02 101.54V104.34M273.62 101.54h4.80M273.62 104.34h4.80M277.29 102.82V105.62M274.89 102.82h4.80M274.89 105.62h4.80M278.56 103.98V106.78M276.16 103.98h4.80M276.16 106.78h4.80M279.83 104.98V107.78M277.43 104.98h4.80M277.43 107.78h4.80M281.10 105.77V108.57M278.70 105.77h4.80M278.70 108.57h4.80M282.37 106.36V109.16M279.97 106.36h4.80M279.97 109.16h4.80M283.64 106.89V109.69M281.24 106.89h4.80M281.24 109.69h4.80M284.91 107.38V110.18M282.51 107.38h4.80M282.51 110.18h4.80M286.18 107.81V110.61M283.78 107.81h4.80M283.78 110.61h4.80M287.45 108.17V110.97M285.05 108.17h4.80M285.05 110.97h4.80" fill="none" stroke="#dd9226" stroke-width="0.7"/>
<polyline points="231.57,110.70 232.84,110.40 234.11,109.35 235.38,106.57 236.65,102.04 237.92,95.33 239.19,82.95 240.46,69.42 241.73,58.03 243.00,46.97 244.27,36.71 245.54,31.83 246.81,29.34 248.08,31.85 249.35,36.09 250.62,39.62 251.89,43.18 253.16,47.30 254.43,51.71 255.70,56.07 256.97,60.48 258.24,64.93 259.51,69.25 260.78,73.29 262.05,77.05 263.32,80.76 264.59,84.34 265.86,87.67 267.13,90.64 268.40,93.14 269.67,95.24 270.94,97.09 272.21,98.73 273.48,100.21 274.75,101.59 276.02,102.94 277.29,104.22 278.56,105.38 279.83,106.38 281.10,107.17 282.37,107.76 283.64,108.29 284.91,108.78 286.18,109.21 287.45,109.57 288.72,109.88 289.99,110.11" fill="none" stroke="#ecb96c" stroke-width="2.2" stroke-linejoin="round" stroke-linecap="round"/>
<path d="M235.38 106.89V109.69M233.38 106.89h4.00M233.38 109.69h4.00M236.65 103.02V105.82M234.65 103.02h4.00M234.65 105.82h4.00M237.92 97.55V100.35M235.92 97.55h4.00M235.92 100.35h4.00M239.19 89.34V92.14M237.19 89.34h4.00M237.19 92.14h4.00M240.46 77.10V79.90M238.46 77.10h4.00M238.46 79.90h4.00M241.73 66.20V69.00M239.73 66.20h4.00M239.73 69.00h4.00M243.00 56.09V58.89M241.00 56.09h4.00M241.00 58.89h4.00M244.27 45.67V48.47M242.27 45.67h4.00M242.27 48.47h4.00M245.54 36.72V39.52M243.54 36.72h4.00M243.54 39.52h4.00M246.81 30.77V33.57M244.81 30.77h4.00M244.81 33.57h4.00M248.08 30.34V33.14M246.08 30.34h4.00M246.08 33.14h4.00M249.35 33.68V36.48M247.35 33.68h4.00M247.35 36.48h4.00M250.62 37.05V39.85M248.62 37.05h4.00M248.62 39.85h4.00M251.89 40.82V43.62M249.89 40.82h4.00M249.89 43.62h4.00M253.16 44.78V47.58M251.16 44.78h4.00M251.16 47.58h4.00M254.43 48.99V51.79M252.43 48.99h4.00M252.43 51.79h4.00M255.70 53.26V56.06M253.70 53.26h4.00M253.70 56.06h4.00M256.97 57.59V60.39M254.97 57.59h4.00M254.97 60.39h4.00M258.24 62.04V64.84M256.24 62.04h4.00M256.24 64.84h4.00M259.51 66.43V69.23M257.51 66.43h4.00M257.51 69.23h4.00M260.78 70.57V73.37M258.78 70.57h4.00M258.78 73.37h4.00M262.05 74.37V77.17M260.05 74.37h4.00M260.05 77.17h4.00M263.32 78.11V80.91M261.32 78.11h4.00M261.32 80.91h4.00M264.59 81.73V84.53M262.59 81.73h4.00M262.59 84.53h4.00M265.86 85.13V87.93M263.86 85.13h4.00M263.86 87.93h4.00M267.13 88.20V91.00M265.13 88.20h4.00M265.13 91.00h4.00M268.40 90.83V93.63M266.40 90.83h4.00M266.40 93.63h4.00M269.67 93.00V95.80M267.67 93.00h4.00M267.67 95.80h4.00M270.94 94.91V97.71M268.94 94.91h4.00M268.94 97.71h4.00M272.21 96.60V99.40M270.21 96.60h4.00M270.21 99.40h4.00M273.48 98.12V100.92M271.48 98.12h4.00M271.48 100.92h4.00M274.75 99.51V102.31M272.75 99.51h4.00M272.75 102.31h4.00M276.02 100.86V103.66M274.02 100.86h4.00M274.02 103.66h4.00M277.29 102.15V104.95M275.29 102.15h4.00M275.29 104.95h4.00M278.56 103.34V106.14M276.56 103.34h4.00M276.56 106.14h4.00M279.83 104.38V107.18M277.83 104.38h4.00M277.83 107.18h4.00M281.10 105.24V108.04M279.10 105.24h4.00M279.10 108.04h4.00M282.37 105.90V108.70M280.37 105.90h4.00M280.37 108.70h4.00M283.64 106.48V109.28M281.64 106.48h4.00M281.64 109.28h4.00M284.91 107.01V109.81M282.91 107.01h4.00M282.91 109.81h4.00M286.18 107.49V110.29M284.18 107.49h4.00M284.18 110.29h4.00M287.45 107.90V110.70M285.45 107.90h4.00M285.45 110.70h4.00M288.72 108.24V111.04M286.72 108.24h4.00M286.72 111.04h4.00" fill="none" stroke="#dc8e20" stroke-width="0.7"/>
<polyline points="231.57,110.70 232.84,110.66 234.11,109.94 235.38,108.29 236.65,104.42 237.92,98.95 239.19,90.74 240.46,78.50 241.73,67.60 243.00,57.49 244.27,47.07 245.54,38.12 246.81,32.17 248.08,31.74 249.35,35.08 250.62,38.45 251.89,42.22 253.16,46.18 254.43,50.39 255.70,54.66 256.97,58.99 258.24,63.44 259.51,67.83 260.78,71.97 262.05,75.77 263.32,79.51 264.59,83.13 265.86,86.53 267.13,89.60 268.40,92.23 269.67,94.40 270.94,96.31 272.21,98.00 273.48,99.52 274.75,100.91 276.02,102.26 277.29,103.55 278.56,104.74 279.83,105.78 281.10,106.64 282.37,107.30 283.64,107.88 284.91,108.41 286.18,108.89 287.45,109.30 288.72,109.64 289.99,109.92" fill="none" stroke="#e6a750" stroke-width="2.2" stroke-linejoin="round" stroke-linecap="round"/>
<path d="M235.38 107.95V110.75M232.98 107.95h4.80M232.98 110.75h4.80M236.65 105.10V107.90M234.25 105.10h4.80M234.25 107.90h4.80M237.92 100.75V103.55M235.52 100.75h4.80M235.52 103.55h4.80M239.19 95.25V98.05M236.79 95.25h4.80M236.79 98.05h4.80M240.46 86.95V89.75M238.06 86.95h4.80M238.06 89.75h4.80M241.73 75.54V78.34M239.33 75.54h4.80M239.33 78.34h4.80M243.00 65.94V68.74M240.60 65.94h4.80M240.60 68.74h4.80M244.27 57.25V60.05M241.87 57.25h4.80M241.87 60.05h4.80M245.54 49.39V52.19M243.14 49.39h4.80M243.14 52.19h4.80M246.81 42.84V45.64M244.41 42.84h4.80M244.41 45.64h4.80M248.08 39.17V41.97M245.68 39.17h4.80M245.68 41.97h4.80M249.35 37.39V40.19M246.95 37.39h4.80M246.95 40.19h4.80M250.62 38.54V41.34M248.22 38.54h4.80M248.22 41.34h4.80M251.89 41.09V43.89M249.49 41.09h4.80M249.49 43.89h4.80M253.16 43.95V46.75M250.76 43.95h4.80M250.76 46.75h4.80M254.43 47.72V50.52M252.03 47.72h4.80M252.03 50.52h4.80M255.70 51.90V54.70M253.30 51.90h4.80M253.30 54.70h4.80M256.97 56.04V58.84M254.57 56.04h4.80M254.57 58.84h4.80M258.24 60.45V63.25M255.84 60.45h4.80M255.84 63.25h4.80M259.51 64.92V67.72M257.11 64.92h4.80M257.11 67.72h4.80M260.78 69.21V72.01M258.38 69.21h4.80M258.38 72.01h4.80M262.05 73.10V75.90M259.65 73.10h4.80M259.65 75.90h4.80M263.32 76.84V79.64M260.92 76.84h4.80M260.92 79.64h4.80M264.59 80.50V83.30M262.19 80.50h4.80M262.19 83.30h4.80M265.86 83.97V86.77M263.46 83.97h4.80M263.46 86.77h4.80M267.13 87.13V89.93M264.73 87.13h4.80M264.73 89.93h4.80M268.40 89.88V92.68M266.00 89.88h4.80M266.00 92.68h4.80M269.67 92.15V94.95M267.27 92.15h4.80M267.27 94.95h4.80M270.94 94.12V96.92M268.54 94.12h4.80M268.54 96.92h4.80M272.21 95.86V98.66M269.81 95.86h4.80M269.81 98.66h4.80M273.48 97.41V100.21M271.08 97.41h4.80M271.08 100.21h4.80M274.75 98.83V101.63M272.35 98.83h4.80M272.35 101.63h4.80M276.02 100.19V102.99M273.62 100.19h4.80M273.62 102.99h4.80M277.29 101.48V104.28M274.89 101.48h4.80M274.89 104.28h4.80M278.56 102.68V105.48M276.16 102.68h4.80M276.16 105.48h4.80M279.83 103.76V106.56M277.43 103.76h4.80M277.43 106.56h4.80M281.10 104.68V107.48M278.70 104.68h4.80M278.70 107.48h4.80M282.37 105.42V108.22M279.97 105.42h4.80M279.97 108.22h4.80M283.64 106.06V108.86M281.24 106.06h4.80M281.24 108.86h4.80M284.91 106.65V109.45M282.51 106.65h4.80M282.51 109.45h4.80M286.18 107.18V109.98M283.78 107.18h4.80M283.78 109.98h4.80M287.45 107.65V110.45M285.05 107.65h4.80M285.05 110.45h4.80M288.72 108.04V110.84M286.32 108.04h4.80M286.32 110.84h4.80" fill="none" stroke="#d98510" stroke-width="0.7"/>
<polyline points="231.57,110.70 232.84,110.70 234.11,110.40 235.38,109.35 236.65,106.50 237.92,102.15 239.19,96.65 240.46,88.35 241.73,76.94 243.00,67.34 244.27,58.65 245.54,50.79 246.81,44.24 248.08,40.57 249.35,38.79 250.62,39.94 251.89,42.49 253.16,45.35 254.43,49.12 255.70,53.30 256.97,57.44 258.24,61.85 259.51,66.32 260.78,70.61 262.05,74.50 263.32,78.24 264.59,81.90 265.86,85.37 267.13,88.53 268.40,91.28 269.67,93.55 270.94,95.52 272.21,97.26 273.48,98.81 274.75,100.23 276.02,101.59 277.29,102.88 278.56,104.08 279.83,105.16 281.10,106.08 282.37,106.82 283.64,107.46 284.91,108.05 286.18,108.58 287.45,109.05 288.72,109.44 289.99,109.74 291.26,109.96 292.53,110.16" fill="none" stroke="#dc8b18" stroke-width="2.2" stroke-linejoin="round" stroke-linecap="round"/>
<line x1="213.30" y1="110.85" x2="233.47" y2="110.85" stroke="#dc8608" stroke-width="2.3" stroke-linecap="round"/>
<polyline points="289.5,110.6 292,111.1 294,110.3 296.5,111.2 299,110.5 301.5,111.0 304,110.4 306.5,111.1 309,110.6 311.5,110.9 313.8,110.6" fill="none" stroke="#dc8608" stroke-width="1.9" stroke-linecap="round" stroke-linejoin="round"/>
<line x1="316.60" y1="110.70" x2="319.20" y2="110.70" stroke="#dc8608" stroke-width="1.8" stroke-linecap="round"/>
<line x1="322.20" y1="110.70" x2="323.60" y2="110.70" stroke="#dc8608" stroke-width="1.8" stroke-linecap="round"/>
<line x1="326.00" y1="110.70" x2="329.20" y2="110.70" stroke="#dc8608" stroke-width="1.8" stroke-linecap="round"/>
<line x1="334.00" y1="110.70" x2="338.40" y2="110.70" stroke="#dc8608" stroke-width="1.8" stroke-linecap="round"/>
<line x1="211.15" y1="24.30" x2="211.15" y2="111.50" stroke="#262628" stroke-width="1.45" stroke-linecap="butt"/>
<line x1="208.35" y1="110.70" x2="210.85" y2="110.70" stroke="#262628" stroke-width="1.2" stroke-linecap="butt"/>
<text transform="translate(205.25,113.15) scale(0.9,1)" font-size="6.8" text-anchor="end" font-weight="normal" fill="#1c1c1c" stroke="#1c1c1c" stroke-width="0.1">0</text>
<line x1="208.35" y1="93.82" x2="210.85" y2="93.82" stroke="#262628" stroke-width="1.2" stroke-linecap="butt"/>
<text transform="translate(205.25,96.27) scale(0.9,1)" font-size="6.8" text-anchor="end" font-weight="normal" fill="#1c1c1c" stroke="#1c1c1c" stroke-width="0.1">50</text>
<line x1="208.35" y1="76.94" x2="210.85" y2="76.94" stroke="#262628" stroke-width="1.2" stroke-linecap="butt"/>
<text transform="translate(205.25,79.39) scale(0.9,1)" font-size="6.8" text-anchor="end" font-weight="normal" fill="#1c1c1c" stroke="#1c1c1c" stroke-width="0.1">100</text>
<line x1="208.35" y1="60.06" x2="210.85" y2="60.06" stroke="#262628" stroke-width="1.2" stroke-linecap="butt"/>
<text transform="translate(205.25,62.51) scale(0.9,1)" font-size="6.8" text-anchor="end" font-weight="normal" fill="#1c1c1c" stroke="#1c1c1c" stroke-width="0.1">150</text>
<line x1="208.35" y1="43.18" x2="210.85" y2="43.18" stroke="#262628" stroke-width="1.2" stroke-linecap="butt"/>
<text transform="translate(205.25,45.63) scale(0.9,1)" font-size="6.8" text-anchor="end" font-weight="normal" fill="#1c1c1c" stroke="#1c1c1c" stroke-width="0.1">200</text>
<line x1="208.35" y1="26.30" x2="210.85" y2="26.30" stroke="#262628" stroke-width="1.2" stroke-linecap="butt"/>
<text transform="translate(205.25,28.75) scale(0.9,1)" font-size="6.8" text-anchor="end" font-weight="normal" fill="#1c1c1c" stroke="#1c1c1c" stroke-width="0.1">250</text>
<text transform="translate(276.00,134.00) scale(0.87,1)" font-size="8.2" text-anchor="middle" font-weight="normal" fill="#1c1c1c" stroke="#1c1c1c" stroke-width="0.1">Time (min)</text>
<text transform="translate(190.00,67.00) rotate(-90) scale(0.86,1)" font-size="8.2" text-anchor="middle" font-weight="normal" fill="#1c1c1c" stroke="#1c1c1c" stroke-width="0.1">Thrombin (nM)</text>
<text transform="translate(182.40,17.00) scale(1.05,1)" font-size="10.8" text-anchor="start" font-weight="bold" fill="#000" stroke="#000" stroke-width="0.45" stroke-linejoin="round">B</text>
<rect x="0.5" y="0.5" width="519" height="450" fill="none" stroke="#000" stroke-width="1"/>
</svg>
</body>
</html>
